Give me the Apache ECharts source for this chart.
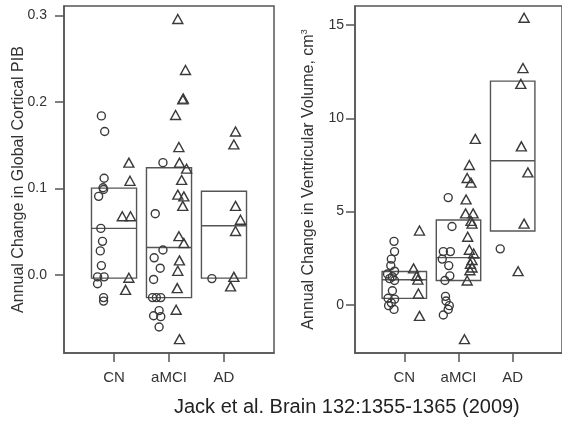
<!DOCTYPE html>
<html>
<head>
<meta charset="utf-8">
<script src="https://cdn.jsdelivr.net/npm/echarts@6/dist/echarts.min.js"></script>
<style>
  html, body { margin: 0; padding: 0; background: #fff; }
  #chart { width: 562px; height: 421px; }
</style>
</head>
<body>
<div id="chart"></div>
<script>
// groups on the x axis (1, 2, 3)
var groups = ['CN', 'aMCI', 'AD'];

// left panel: annual change in global cortical PIB
var pibTicks = [0, 0.1, 0.2, 0.3];
// boxes: [group, q1, median, q3]
var pibBoxes = [
  [1, -0.0035, 0.054, 0.1005],
  [2, -0.026, 0.032, 0.124],
  [3, -0.0035, 0.057, 0.097]
];
// circles [x with jitter, value]
var pibCircles = [
  [0.77, 0.184], [0.83, 0.166], [0.82, 0.112], [0.80, 0.101], [0.81, 0.099],
  [0.72, 0.091], [0.76, 0.054], [0.79, 0.039], [0.75, 0.028], [0.77, 0.011],
  [0.70, -0.002], [0.82, -0.002], [0.70, -0.010], [0.81, -0.026], [0.81, -0.030],
  [1.89, 0.130], [1.75, 0.071], [1.89, 0.029], [1.73, 0.020], [1.84, 0.008],
  [1.72, -0.005], [1.70, -0.026], [1.77, -0.026], [1.85, -0.026], [1.82, -0.041],
  [1.72, -0.047], [1.85, -0.048], [1.82, -0.060],
  [2.78, -0.004]
];
// triangles [x with jitter, value]
var pibTriangles = [
  [1.27, 0.130], [1.29, 0.109], [1.15, 0.068], [1.30, 0.068], [1.27, -0.003], [1.21, -0.017],
  [2.16, 0.296], [2.30, 0.237], [2.25, 0.203], [2.26, 0.204], [2.12, 0.185], [2.18, 0.148],
  [2.19, 0.130], [2.32, 0.123], [2.23, 0.110], [2.16, 0.093], [2.27, 0.091], [2.25, 0.080],
  [2.18, 0.045], [2.27, 0.037], [2.19, 0.017], [2.16, 0.005], [2.15, -0.015], [2.13, -0.040],
  [2.19, -0.074],
  [3.21, 0.166], [3.18, 0.151], [3.21, 0.080], [3.30, 0.064], [3.21, 0.051], [3.18, -0.002],
  [3.12, -0.013]
];

// right panel: annual change in ventricular volume
var vvTicks = [0, 5, 10, 15];
var vvBoxes = [
  [1, 0.34, 1.34, 1.78],
  [2, 1.30, 2.53, 4.55],
  [3, 3.96, 7.73, 12.0]
];
var vvCircles = [
  [0.81, 3.4], [0.82, 2.85], [0.76, 2.45], [0.75, 2.1], [0.82, 1.8], [0.69, 1.65],
  [0.78, 1.5], [0.73, 1.4], [0.82, 1.3], [0.78, 0.75], [0.70, 0.35], [0.82, 0.3],
  [0.76, 0.1], [0.71, -0.05], [0.81, -0.25],
  [1.81, 5.75], [1.88, 4.2], [1.72, 2.85], [1.85, 2.85], [1.70, 2.45], [1.82, 2.1],
  [1.84, 1.55], [1.75, 1.3], [1.76, 0.45], [1.77, 0.2], [1.83, -0.05], [1.81, -0.25],
  [1.72, -0.55],
  [2.77, 3.0]
];
var vvTriangles = [
  [1.28, 3.98], [1.17, 1.95], [1.23, 1.55], [1.25, 1.35], [1.26, 0.6], [1.28, -0.6],
  [2.31, 8.9], [2.20, 7.5], [2.16, 6.8], [2.23, 6.55], [2.14, 5.65], [2.13, 4.9],
  [2.27, 4.9], [2.23, 4.5], [2.25, 4.35], [2.17, 3.65], [2.20, 2.95], [2.28, 2.75],
  [2.25, 2.4], [2.22, 2.2], [2.25, 2.0], [2.21, 1.85], [2.16, 1.3], [2.11, -1.85],
  [3.21, 15.4], [3.19, 12.7], [3.15, 11.85], [3.16, 8.5], [3.28, 7.1], [3.21, 4.35],
  [3.10, 1.8]
];

var font = '"Liberation Sans", Arial, Helvetica, sans-serif';
var ink = '#555';

function boxSeries(idx, data) {
  return {
    type: 'custom',
    xAxisIndex: idx,
    yAxisIndex: idx,
    silent: true,
    data: data,
    renderItem: function (params, api) {
      var x = api.value(0);
      var tl = api.coord([x - 0.41, api.value(3)]);
      var br = api.coord([x + 0.41, api.value(1)]);
      var ml = api.coord([x - 0.41, api.value(2)]);
      var mr = api.coord([x + 0.41, api.value(2)]);
      return {
        type: 'group',
        children: [
          {
            type: 'rect',
            shape: { x: tl[0], y: tl[1], width: br[0] - tl[0], height: br[1] - tl[1] },
            style: { fill: 'none', stroke: ink, lineWidth: 1.4 }
          },
          {
            type: 'line',
            shape: { x1: ml[0], y1: ml[1], x2: mr[0], y2: mr[1] },
            style: { stroke: ink, lineWidth: 1.4 }
          }
        ]
      };
    }
  };
}

function pointSeries(idx, data, symbol, size) {
  return {
    type: 'scatter',
    xAxisIndex: idx,
    yAxisIndex: idx,
    silent: true,
    symbol: symbol,
    symbolSize: size,
    data: data,
    itemStyle: { color: 'rgba(0,0,0,0)', borderColor: '#3a3a3a', borderWidth: 1.4, opacity: 1 },
    z: 5
  };
}

var axisLineStyle = { show: true, onZero: false, lineStyle: { color: ink, width: 1.5 } };
var tickStyle = { color: ink, width: 1.5 };

function xAxisFor(idx) {
  return {
    type: 'value',
    gridIndex: idx,
    position: 'bottom',
    min: 0.09,
    max: 3.91,
    splitLine: { show: false },
    axisLine: axisLineStyle,
    axisTick: { show: true, length: 9, customValues: [1, 2, 3], lineStyle: tickStyle },
    axisLabel: {
      customValues: [1, 2, 3],
      formatter: function (v) { return groups[Math.round(v) - 1]; },
      margin: 17,
      fontSize: 15,
      color: '#333',
      fontFamily: font
    }
  };
}

var chart = echarts.init(document.getElementById('chart'));
chart.setOption({
  animation: false,
  backgroundColor: '#fff',
  grid: [
    { left: 64, top: 6, width: 210, height: 347, show: true, borderColor: ink, borderWidth: 1.5 },
    { left: 355, top: 6, width: 214, height: 347, show: true, borderColor: ink, borderWidth: 1.5 }
  ],
  xAxis: [xAxisFor(0), xAxisFor(1)],
  yAxis: [
    {
      type: 'value',
      gridIndex: 0,
      position: 'left',
      min: -0.09,
      max: 0.311,
      splitLine: { show: false },
      axisLine: axisLineStyle,
      axisTick: { show: true, length: 9, customValues: pibTicks, lineStyle: tickStyle },
      axisLabel: {
        customValues: pibTicks,
        formatter: function (v) { return v.toFixed(1); },
        margin: 17,
        fontSize: 14,
        color: '#333',
        fontFamily: font
      },
      name: 'Annual Change in Global Cortical PIB',
      nameLocation: 'middle',
      nameGap: 37,
      nameMoveOverlap: false,
      nameTextStyle: { fontSize: 16, color: '#333', fontFamily: font }
    },
    {
      type: 'value',
      gridIndex: 1,
      position: 'left',
      min: -2.59,
      max: 16.03,
      splitLine: { show: false },
      axisLine: axisLineStyle,
      axisTick: { show: true, length: 9, customValues: vvTicks, lineStyle: tickStyle },
      axisLabel: {
        customValues: vvTicks,
        margin: 11,
        fontSize: 14,
        color: '#333',
        fontFamily: font
      },
      name: 'Annual Change in Ventricular Volume, cm{sup|3}',
      nameLocation: 'middle',
      nameGap: 38,
      nameMoveOverlap: false,
      nameTextStyle: {
        fontSize: 16, color: '#333', fontFamily: font,
        rich: { sup: { fontSize: 9, color: '#333', fontFamily: font, verticalAlign: 'top', padding: [0, 0, 8, 0] } }
      }
    }
  ],
  graphic: [
    {
      type: 'text',
      left: 174,
      top: 397,
      style: { text: 'Jack et al. Brain 132:1355-1365 (2009)', fontSize: 20, fill: '#222', fontFamily: font }
    }
  ],
  series: [
    boxSeries(0, pibBoxes),
    pointSeries(0, pibCircles, 'circle', 8),
    pointSeries(0, pibTriangles, 'triangle', [10, 9]),
    boxSeries(1, vvBoxes),
    pointSeries(1, vvCircles, 'circle', 8),
    pointSeries(1, vvTriangles, 'triangle', [10, 9])
  ]
});
</script>
</body>
</html>
